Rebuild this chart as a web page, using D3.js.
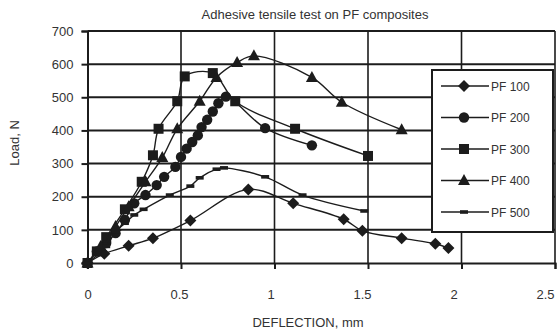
<!DOCTYPE html>
<html>
<head>
<meta charset="utf-8">
<script src="https://cdn.jsdelivr.net/npm/d3@7"></script>
<style>
  html, body { margin: 0; padding: 0; background: #fff; }
  svg { display: block; font-family: "Liberation Sans", Arial, sans-serif; }
</style>
</head>
<body>
<svg id="chart" width="560" height="330"></svg>
<script>
// Deflection (mm) and load (N) for each PF adhesive formulation
const pf100X = [0, 0.09, 0.22, 0.35, 0.55, 0.86, 1.10, 1.37, 1.47, 1.68, 1.86, 1.93];
const pf100Y = [0, 28, 52, 75, 128, 222, 180, 132, 97, 75, 58, 45];

const pf200X = [0, 0.05, 0.10, 0.15, 0.20, 0.25, 0.31, 0.37, 0.41, 0.47, 0.50, 0.53, 0.56, 0.59, 0.61, 0.64, 0.67, 0.70, 0.74, 0.95, 1.20];
const pf200Y = [0, 35, 60, 90, 130, 180, 205, 235, 260, 290, 320, 345, 365, 385, 410, 432, 457, 482, 502, 407, 355];

const pf300X = [0, 0.05, 0.10, 0.20, 0.29, 0.35, 0.38, 0.48, 0.52, 0.67, 0.79, 1.11, 1.50];
const pf300Y = [0, 35, 78, 162, 245, 325, 405, 488, 563, 573, 488, 405, 323];

const pf400X = [0, 0.07, 0.15, 0.22, 0.31, 0.40, 0.48, 0.60, 0.69, 0.80, 0.89, 1.20, 1.36, 1.68];
const pf400Y = [0, 50, 110, 170, 245, 318, 405, 488, 560, 605, 625, 560, 485, 402];

const pf500X = [0, 0.10, 0.15, 0.20, 0.25, 0.30, 0.44, 0.55, 0.60, 0.69, 0.73, 0.95, 1.15, 1.48];
const pf500Y = [0, 50, 95, 120, 145, 162, 205, 232, 257, 283, 287, 260, 205, 157];

const seriesNames = ["PF 100", "PF 200", "PF 300", "PF 400", "PF 500"];
const markerShapes = ["diamond", "circle", "square", "triangle", "dash"];

const xTicks = [0, 0.5, 1, 1.5, 2, 2.5];
const xTickLabels = ["0", "0.5", "1", "1.5", "2", "2.5"];
const yTicks = [0, 100, 200, 300, 400, 500, 600, 700];

const titleText = "Adhesive tensile test on PF composites";
const xTitle = "DEFLECTION, mm";
const yTitle = "Load, N";

const series = [
  { name: seriesNames[0], shape: markerShapes[0], xs: pf100X, ys: pf100Y },
  { name: seriesNames[1], shape: markerShapes[1], xs: pf200X, ys: pf200Y },
  { name: seriesNames[2], shape: markerShapes[2], xs: pf300X, ys: pf300Y },
  { name: seriesNames[3], shape: markerShapes[3], xs: pf400X, ys: pf400Y },
  { name: seriesNames[4], shape: markerShapes[4], xs: pf500X, ys: pf500Y }
];

const svg = d3.select("#chart");
const ink = "#1c1c1c";
const textColor = "#333";
const fontSize = 13;

const x = d3.scaleLinear().domain([0, 2.5]).range([87.5, 555]);
const y = d3.scaleLinear().domain([0, 700]).range([263, 31]);

// Title
svg.append("text")
  .attr("x", 315).attr("y", 18.5)
  .attr("text-anchor", "middle")
  .attr("font-size", fontSize)
  .attr("fill", textColor)
  .text(titleText);

// Gridlines
const grid = svg.append("g");
grid.selectAll("line.h").data(yTicks.slice(1)).join("line")
  .attr("class", "h")
  .attr("x1", x(0)).attr("x2", x(2.5))
  .attr("y1", d => y(d)).attr("y2", d => y(d))
  .attr("stroke", ink).attr("stroke-width", 2);
grid.selectAll("line.v").data(xTicks.slice(1)).join("line")
  .attr("class", "v")
  .attr("x1", d => x(d)).attr("x2", d => x(d))
  .attr("y1", y(0)).attr("y2", y(700))
  .attr("stroke", ink).attr("stroke-width", 1.6);

// Axes
const xAxis = d3.axisBottom(x).tickValues(xTicks)
  .tickFormat((d, i) => xTickLabels[i]).tickSize(6).tickPadding(21);
const gx = svg.append("g").attr("transform", `translate(0,${y(0)})`).call(xAxis);
gx.select(".domain").attr("stroke", ink).attr("stroke-width", 2);
gx.selectAll(".tick line").attr("stroke", ink).attr("stroke-width", 2);
gx.selectAll(".tick text").attr("fill", textColor).attr("font-size", fontSize)
  .attr("font-family", "Liberation Sans, Arial, sans-serif")
  .attr("dx", (d, i) => -i * 2);

const yAxis = d3.axisLeft(y).tickValues(yTicks).tickSize(6).tickPadding(8);
const gy = svg.append("g").attr("transform", `translate(${x(0)},0)`).call(yAxis);
gy.select(".domain").attr("stroke", ink).attr("stroke-width", 2);
gy.selectAll(".tick line").attr("stroke", ink).attr("stroke-width", 2);
gy.selectAll(".tick text").attr("fill", textColor).attr("font-size", fontSize)
  .attr("font-family", "Liberation Sans, Arial, sans-serif");

// Axis titles
svg.append("text")
  .attr("x", 308).attr("y", 327)
  .attr("text-anchor", "middle")
  .attr("font-size", fontSize).attr("fill", textColor)
  .text(xTitle);
svg.append("text")
  .attr("transform", "translate(19,143) rotate(-90)")
  .attr("text-anchor", "middle")
  .attr("font-size", fontSize).attr("fill", textColor)
  .text(yTitle);

// Marker drawing
function drawMarker(g, shape, cx, cy) {
  if (shape === "diamond") {
    g.append("path").attr("d", `M${cx},${cy - 6}L${cx + 6},${cy}L${cx},${cy + 6}L${cx - 6},${cy}Z`).attr("fill", ink);
  } else if (shape === "circle") {
    g.append("circle").attr("cx", cx).attr("cy", cy).attr("r", 5.2).attr("fill", ink);
  } else if (shape === "square") {
    g.append("rect").attr("x", cx - 5).attr("y", cy - 5).attr("width", 10).attr("height", 10).attr("fill", ink);
  } else if (shape === "triangle") {
    g.append("path").attr("d", `M${cx},${cy - 6.5}L${cx + 6},${cy + 4.5}L${cx - 6},${cy + 4.5}Z`).attr("fill", ink);
  } else {
    g.append("rect").attr("x", cx - 4).attr("y", cy - 1.8).attr("width", 8).attr("height", 3.6).attr("fill", ink);
  }
}

const line = d3.line()
  .x(d => x(d[0])).y(d => y(d[1]))
  .curve(d3.curveCatmullRom.alpha(0.5));

const plot = svg.append("g");
series.forEach(s => {
  const pts = s.xs.map((v, i) => [v, s.ys[i]]);
  plot.append("path").datum(pts)
    .attr("d", line)
    .attr("fill", "none")
    .attr("stroke", ink)
    .attr("stroke-width", 1.4);
  const mg = plot.append("g");
  pts.forEach(p => drawMarker(mg, s.shape, x(p[0]), y(p[1])));
});

// Legend
const legend = svg.append("g");
legend.append("rect")
  .attr("x", 432).attr("y", 70).attr("width", 121).attr("height", 162)
  .attr("fill", "#fff").attr("stroke", ink).attr("stroke-width", 2);
series.forEach((s, i) => {
  const ly = 86 + i * 31.5;
  legend.append("line")
    .attr("x1", 441).attr("x2", 489).attr("y1", ly).attr("y2", ly)
    .attr("stroke", ink).attr("stroke-width", 1.6);
  drawMarker(legend, s.shape, 464, ly);
  legend.append("text")
    .attr("x", 491).attr("y", ly + 4.5)
    .attr("font-size", 12).attr("fill", textColor)
    .text(s.name);
});
</script>
</body>
</html>
